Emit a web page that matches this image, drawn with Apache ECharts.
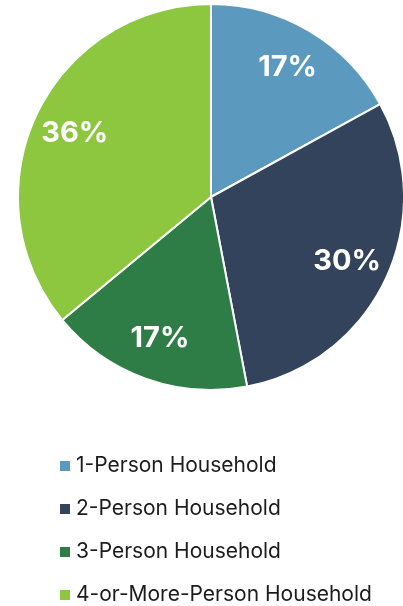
<!DOCTYPE html>
<html>
<head>
<meta charset="utf-8">
<script src="https://cdn.jsdelivr.net/npm/echarts@6/dist/echarts.min.js"></script>
<style>
html,body{margin:0;padding:0;background:#fff;}
#chart{width:403px;height:606px;}
</style>
</head>
<body>
<div id="chart"></div>
<script>
const categories = ['1-Person Household', '2-Person Household', '3-Person Household', '4-or-More-Person Household'];
const values = [17, 30, 17, 36];
const labels = ['17%', '30%', '17%', '36%'];
const colors = ['#5b9abe', '#33435c', '#2f7d46', '#8dc63f'];

const chart = echarts.init(document.getElementById('chart'));
const sliceData = categories.map((c, i) => ({ name: c, value: values[i], itemStyle: { color: colors[i] } }));
const labelData = categories.map((c, i) => ({ name: c, value: values[i], label: { formatter: labels[i] } }));

chart.setOption({
  animation: false,
  legend: {
    orient: 'vertical',
    left: 53,
    top: 449,
    height: 160,
    padding: 5,
    icon: 'rect',
    itemWidth: 12,
    itemHeight: 12,
    itemGap: 19,
    selectedMode: false,
    data: categories,
    textStyle: { fontFamily: 'Inter', fontSize: 21, color: '#1c1c1c', lineHeight: 24 }
  },
  series: [
    {
      type: 'pie',
      center: [211, 197],
      radius: [0, 193],
      startAngle: 90,
      clockwise: true,
      silent: true,
      label: { show: false },
      labelLine: { show: false },
      itemStyle: { borderColor: '#ffffff', borderWidth: 2 },
      data: sliceData
    },
    {
      type: 'pie',
      center: [211, 197],
      radius: [102, 193],
      startAngle: 90,
      clockwise: true,
      silent: true,
      legendHoverLink: false,
      itemStyle: { color: 'rgba(0,0,0,0)', borderWidth: 0 },
      label: { show: true, position: 'inside', color: '#ffffff', fontFamily: 'Inter', fontWeight: 'bold', fontSize: 29 },
      labelLine: { show: false },
      data: labelData
    }
  ]
});
</script>
</body>
</html>
